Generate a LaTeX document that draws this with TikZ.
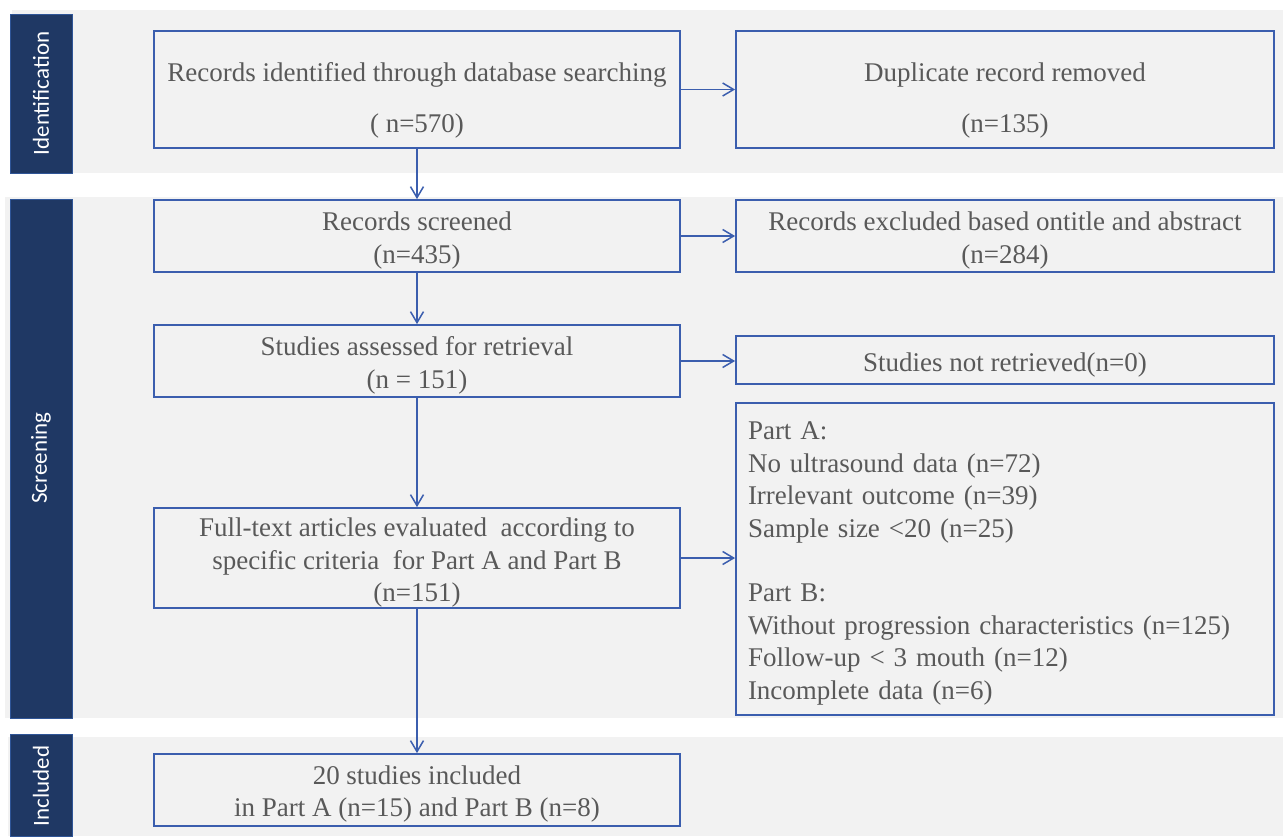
\documentclass[tikz,border=0pt]{standalone}
\usepackage{fontspec}
\setmainfont{Liberation Serif}
\newfontfamily\barfont{Carlito}
\usetikzlibrary{arrows.meta}
\definecolor{bandgray}{HTML}{F2F2F2}
\definecolor{navy}{HTML}{1F3864}
\definecolor{navyedge}{HTML}{2F5597}
\definecolor{boxblue}{HTML}{3B5EAE}
\definecolor{txtgray}{HTML}{595959}
\begin{document}
\begin{tikzpicture}[x=1pt,y=-1pt,
  band/.style={fill=bandgray, draw=none},
  stage/.style={fill=navy, draw=navyedge, line width=1pt},
  stagetext/.style={text=white, font=\barfont\fontsize{23}{27}\selectfont, rotate=90, inner sep=0pt},
  box/.style={draw=boxblue, line width=1.8pt, fill=bandgray, inner sep=0pt},
  txt/.style={inner sep=0pt, text=txtgray, font=\fontsize{27}{32.4}\selectfont, align=center},
  arr/.style={draw=boxblue, line width=1.5pt, -{Straight Barb[length=11pt,width=13pt]}}
]
\useasboundingbox (0,0) rectangle (1283,836);
\fill[white] (0,0) rectangle (1283,836);
% bands
\fill[band] (12,10) rectangle (1283,173);
\fill[band] (5,197) rectangle (1283,718);
\fill[band] (8,737) rectangle (1283,836);
% stage bars
\path[stage] (10,14) rectangle (72,173);
\node[stagetext] (lid) at (41,93.5) {Identification};
\path[stage] (10,199) rectangle (72,718);
\node[stagetext] (lsc) at (41,458) {Screening};
\path[stage] (10,734) rectangle (72,836);
\node[stagetext] (lin) at (41,786) {Included};
% boxes
\node[box, minimum width=526, minimum height=117] (b1) at (417,89.5) {};
\node[box, minimum width=538, minimum height=117] (b2) at (1005,89.5) {};
\node[box, minimum width=526, minimum height=72] (b3) at (417,236) {};
\node[box, minimum width=538, minimum height=72] (b4) at (1005,236) {};
\node[box, minimum width=526, minimum height=72] (b5) at (417,361) {};
\node[box, minimum width=538, minimum height=48] (b6) at (1005,360) {};
\node[box, minimum width=526, minimum height=100] (b7) at (417,558) {};
\node[box, minimum width=538, minimum height=312] (b8) at (1005,559) {};
\node[box, minimum width=526, minimum height=72] (b9) at (417,790) {};
% texts
\node[txt] (t1) at ([yshift=-11pt]b1.center) {Records identified through database searching\\[18.6pt]( n=570)};
\node[txt] (t2) at ([yshift=-11pt]b2.center) {Duplicate record removed\\[18.6pt](n=135)};
\node[txt] (t3) at ([yshift=-4.5pt]b3.center) {Records screened\\(n=435)};
\node[txt] (t4) at ([yshift=-4.5pt]b4.center) {Records excluded based ontitle and abstract\\(n=284)};
\node[txt] (t5) at ([yshift=-4.5pt]b5.center) {Studies assessed for retrieval\\(n = 151)};
\node[txt] (t6) at ([yshift=-4.5pt]b6.center) {Studies not retrieved(n=0)};
\node[txt] (t7) at ([yshift=-4.5pt]b7.center) {Full-text articles evaluated\ \ according to\\specific criteria\ \ for Part A and Part B\\(n=151)};
\node[txt, text width=514, align=left] (t8) at ([yshift=-4.5pt]b8.center) {Part A:\\No ultrasound data (n=72)\\Irrelevant outcome (n=39)\\Sample size <20 (n=25)\\[32.4pt]Part B:\\Without progression characteristics (n=125)\\Follow-up < 3 mouth (n=12)\\Incomplete data (n=6)};
\node[txt] (t9) at ([yshift=-4pt]b9.center) {20 studies included\\in Part A (n=15) and Part B (n=8)};
% arrows
\draw[arr] (b1) -- (b2);
\draw[arr] (b1) -- (b3);
\draw[arr] (b3) -- (b4);
\draw[arr] (b3) -- (b5);
\draw[arr] (b5.east) -- (b5.east -| b6.west);
\draw[arr] (b5) -- (b7);
\draw[arr] (b7.east) -- (b7.east -| b8.west);
\draw[arr] (b7) -- (b9);
\end{tikzpicture}
\end{document}
